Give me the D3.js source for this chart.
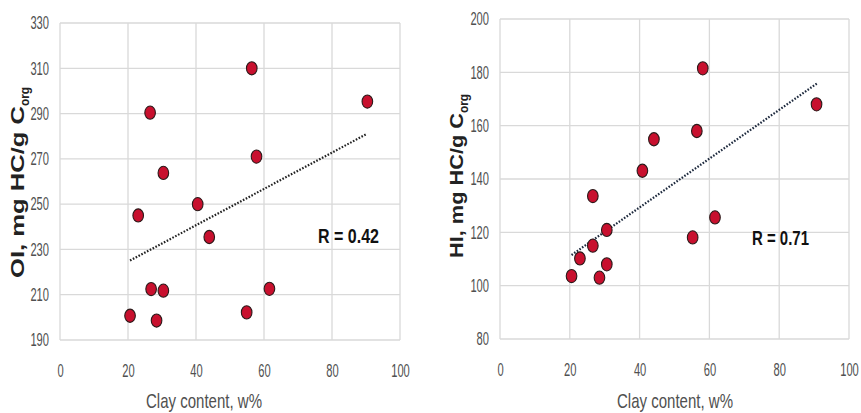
<!DOCTYPE html>
<meta charset="utf-8">
<script src="https://d3js.org/d3.v7.min.js"></script>
<style>
 body { margin: 0; background: #fff; }
 text { font-family: "Liberation Sans", sans-serif; }
</style>
<div id="chart"></div>
<script>

 // --- data ---
 const xTicks = [0, 20, 40, 60, 80, 100];

 // left panel: OI
 const oiClay = [56.4, 90.4, 26.5, 57.8, 30.4, 40.5, 23.0, 43.9, 26.8, 30.4, 61.6, 54.9, 20.6, 28.4];
 const oiValue = [310, 295.3, 290.4, 271, 263.8, 250, 245, 235.5, 212.5, 211.8, 212.6, 202.2, 200.7, 198.6];
 const oiTicks = [190, 210, 230, 250, 270, 290, 310, 330];
 const oiTrendX = [20.6, 90];
 const oiTrendY = [225.1, 280.8];

 // right panel: HI
 const hiClay = [58.1, 90.7, 56.4, 44.1, 40.8, 26.6, 61.6, 55.2, 30.6, 26.6, 22.9, 30.6, 20.5, 28.5];
 const hiValue = [181.5, 168, 158, 154.9, 143.1, 133.6, 125.6, 118.1, 120.9, 115, 110.2, 108, 103.6, 103];
 const hiTicks = [80, 100, 120, 140, 160, 180, 200];
 const hiTrendX = [20.5, 90.9];
 const hiTrendY = [111.5, 175.9];

 const colorDot = "#c8102e";
 const colorGrid = "#d9d9d9";
 const colorText = "#505050";

 const svg = d3.select("#chart").append("svg")
   .attr("width", 861).attr("height", 413);

 // squeeze a text to a given width (the source font is a narrow one)
 function squeeze(sel, w) {
   sel.attr("textLength", w).attr("lengthAdjust", "spacingAndGlyphs");
 }

 function panel(o) {
   const x = d3.scaleLinear().domain([0, 100]).range([o.x0, o.x1]);
   const y = d3.scaleLinear().domain(d3.extent(o.yTicks)).range([o.y1, o.y0]);
   const g = svg.append("g");

   // grid
   g.selectAll(".vg").data(xTicks).join("line")
     .attr("x1", d => x(d)).attr("x2", d => x(d))
     .attr("y1", o.y0).attr("y2", o.y1)
     .attr("stroke", colorGrid).attr("stroke-width", 1.3);
   g.selectAll(".hg").data(o.yTicks).join("line")
     .attr("x1", o.x0).attr("x2", o.x1)
     .attr("y1", d => y(d)).attr("y2", d => y(d))
     .attr("stroke", colorGrid).attr("stroke-width", 1.3);

   // axes (labels only)
   const ax = g.append("g").attr("transform", `translate(0,${o.y1 + 16})`)
     .call(d3.axisBottom(x).tickValues(xTicks).tickSize(0).tickPadding(8));
   const ay = g.append("g").attr("transform", `translate(${o.x0 - 11},0)`)
     .call(d3.axisLeft(y).tickValues(o.yTicks).tickSize(0).tickPadding(0));
   [ax, ay].forEach(a => {
     a.select(".domain").remove();
     a.selectAll("text").style("font-size", "18px").attr("fill", colorText)
       .style("font-family", "'Liberation Sans', sans-serif")
       .each(function(d) { squeeze(d3.select(this), String(d).length * 6.2); });
   });

   // trend line
   g.append("line")
     .attr("x1", x(o.tx[0])).attr("y1", y(o.ty[0]))
     .attr("x2", x(o.tx[1])).attr("y2", y(o.ty[1]))
     .attr("stroke", o.trendColor).attr("stroke-width", 2.2)
     .attr("stroke-dasharray", "1.6,1.6");

   // points
   g.selectAll("ellipse").data(o.xs).join("ellipse")
     .attr("cx", d => x(d)).attr("cy", (d, i) => y(o.ys[i]))
     .attr("rx", 5.3).attr("ry", 6.6)
     .attr("fill", colorDot).attr("stroke", "#2b1a1a").attr("stroke-width", 1.1);

   // R
   g.append("text").attr("x", o.rx).attr("y", o.ry).text(o.rText)
     .style("font-size", "20px").style("font-weight", "bold").attr("fill", "#111")
     .call(squeeze, o.rw);

   // x title
   g.append("text").attr("x", o.xtx - 58).attr("y", 408)
     .text("Clay content, w%").style("font-size", "21px").attr("fill", colorText)
     .call(squeeze, 116);

   // y title
   const yt = g.append("text")
     .attr("transform", `translate(${o.ytx},${o.yb}) rotate(-90)`)
     .style("font-size", "18px").style("font-weight", "bold").attr("fill", "#222");
   yt.append("tspan").text(o.yTitle).call(squeeze, o.yw);
   yt.append("tspan").attr("dy", 5).style("font-size", "13px").text("org").call(squeeze, 19);
 }

 panel({x0: 60, x1: 400, y0: 23, y1: 340, yTicks: oiTicks, xs: oiClay, ys: oiValue,
        tx: oiTrendX, ty: oiTrendY, trendColor: "#222",
        rText: "R = 0.42", rx: 318, ry: 243, rw: 61, xtx: 204, ytx: 24, yb: 278, yw: 172,
        yTitle: "OI,  mg HC/g C"});

 panel({x0: 500, x1: 849, y0: 19, y1: 339, yTicks: hiTicks, xs: hiClay, ys: hiValue,
        tx: hiTrendX, ty: hiTrendY, trendColor: "#1e2a3e",
        rText: "R = 0.71", rx: 752, ry: 245, rw: 57, xtx: 675, ytx: 463, yb: 258, yw: 145,
        yTitle: "HI, mg HC/g C"});

</script>
